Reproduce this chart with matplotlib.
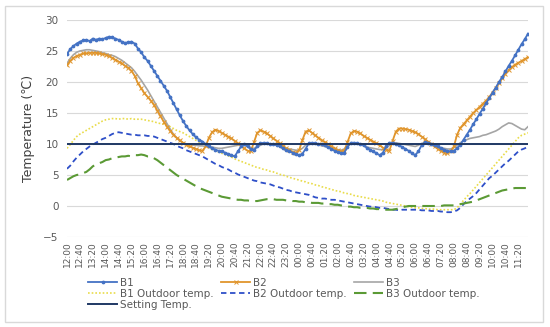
import matplotlib
matplotlib.use("Agg")
import matplotlib.pyplot as plt
from matplotlib.patches import Rectangle

# ---- data (10-minute samples, 12:00 -> 11:50 next day) ----
tick_labels = ["12:00", "12:40", "13:20", "14:00", "14:40", "15:20", "16:00", "16:40",
               "17:20", "18:00", "18:40", "19:20", "20:00", "20:40", "21:20", "22:00",
               "22:40", "23:20", "00:00", "00:40", "01:20", "02:00", "02:40", "03:20",
               "04:00", "04:40", "05:20", "06:00", "06:40", "07:20", "08:00", "08:40",
               "09:20", "10:00", "10:40", "11:20"]

b1 = [24.5, 25.3, 25.8, 26.2, 26.5, 26.7,
      26.8, 26.6, 27.0, 26.8, 27.0, 26.9,
      27.1, 27.3, 27.2, 27.0, 26.8, 26.5,
      26.3, 26.4, 26.5, 26.2, 25.4, 24.8,
      24.0, 23.4, 22.6, 21.8, 21.0, 20.2,
      19.4, 18.6, 17.6, 16.6, 15.6, 14.6,
      13.7, 12.9, 12.2, 11.6, 11.1, 10.7,
      10.4, 10.0, 9.6, 9.3, 9.1, 8.9,
      8.8, 8.6, 8.4, 8.2, 8.0, 8.8,
      9.6, 10.0, 9.6, 9.2, 9.0, 9.6,
      10.1, 10.2, 10.1, 10.0, 10.0, 9.8,
      9.6, 9.3, 9.0, 8.8, 8.6, 8.4,
      8.2, 8.4, 9.2, 10.1, 10.2, 10.1,
      10.0, 10.0, 9.8, 9.5, 9.2, 8.9,
      8.7, 8.5, 8.6, 9.5, 10.2, 10.2,
      10.1, 10.0, 9.8, 9.4, 9.1, 8.8,
      8.5, 8.2, 8.6, 9.6, 10.2, 10.2,
      10.0, 9.8, 9.5, 9.2, 8.9, 8.5,
      8.2, 8.8, 9.8, 10.3, 10.2, 10.0,
      9.8, 9.6, 9.3, 9.1, 8.9, 8.8,
      8.9, 9.3, 9.9, 10.7, 11.5, 12.3,
      13.2, 14.0, 14.9, 15.7, 16.6, 17.4,
      18.3, 19.1, 20.0, 20.8, 21.7, 22.6,
      23.4, 24.3, 25.2, 26.1, 26.9, 27.8]

b2 = [22.7, 23.4, 23.9, 24.2, 24.4, 24.6,
      24.6, 24.7, 24.7, 24.7, 24.6, 24.5,
      24.4, 24.2, 23.9, 23.6, 23.3, 23.0,
      22.6, 22.3, 21.8, 21.0, 19.8, 19.0,
      18.2, 17.6, 17.0, 16.3, 15.4, 14.5,
      13.6, 12.8, 12.1, 11.5, 11.0, 10.6,
      10.2, 9.9, 9.6, 9.4, 9.2, 9.0,
      8.9, 9.6, 11.0, 11.9, 12.3, 12.1,
      11.8, 11.5, 11.2, 10.9, 10.5, 10.1,
      9.7, 9.3, 8.9, 8.8, 10.3, 11.8,
      12.2, 12.0, 11.7, 11.3, 10.9, 10.5,
      10.1, 9.7, 9.3, 9.0, 8.7, 8.6,
      9.0, 10.6, 12.0, 12.2, 11.8, 11.4,
      11.0, 10.6, 10.3, 10.0, 9.6, 9.3,
      9.0, 8.8, 8.9, 10.3, 11.7, 12.1,
      12.0, 11.7, 11.3, 11.0, 10.7, 10.4,
      10.1, 9.8, 9.4, 9.1, 8.9, 10.5,
      12.0, 12.5, 12.5, 12.4, 12.3, 12.1,
      11.9, 11.6, 11.2, 10.8, 10.4, 10.0,
      9.6, 9.2, 8.9, 8.6, 8.5, 8.8,
      9.6, 11.5, 12.6, 13.2, 13.8, 14.4,
      15.0, 15.5, 16.0, 16.5, 17.0, 17.6,
      18.3, 19.0, 19.8, 20.6, 21.3, 21.9,
      22.4, 22.8, 23.1, 23.4, 23.7, 24.0]

b3 = [23.0, 23.8, 24.4, 24.8, 25.0, 25.1,
      25.2, 25.2, 25.1, 25.0, 24.9, 24.7,
      24.6, 24.4, 24.3, 24.1, 23.8, 23.5,
      23.1, 22.7, 22.3, 21.7, 21.0, 20.3,
      19.5, 18.7, 17.8, 16.9, 16.0, 15.1,
      14.2, 13.3, 12.4, 11.6, 11.0, 10.5,
      10.2, 10.0, 9.9, 9.8, 9.8, 9.7,
      9.7, 9.6, 9.6, 9.5, 9.4, 9.3,
      9.3, 9.4, 9.5, 9.6, 9.7, 9.8,
      9.9, 9.8, 9.6, 9.4, 9.3, 9.5,
      9.8, 10.0, 10.1, 10.0, 9.9, 9.8,
      9.6, 9.5, 9.3, 9.2, 9.1, 9.0,
      9.0, 9.3, 9.8, 10.1, 10.1, 10.0,
      9.9, 9.7, 9.6, 9.4, 9.3, 9.2,
      9.1, 9.0, 9.2, 9.7, 10.0, 10.1,
      10.0, 9.9, 9.7, 9.5, 9.4, 9.3,
      9.2, 9.1, 9.1, 9.3, 9.8, 10.1,
      10.2, 10.1, 10.0, 9.9, 9.8, 9.7,
      9.6, 9.8, 10.1, 10.2, 10.1, 9.9,
      9.7, 9.5, 9.4, 9.3, 9.2, 9.2,
      9.4, 9.8, 10.2, 10.5, 10.7, 10.9,
      11.0, 11.1, 11.2, 11.4, 11.5, 11.7,
      11.9, 12.1, 12.4, 12.8, 13.1, 13.4,
      13.3, 13.0, 12.7, 12.4, 12.3, 12.8]

b1_out = [9.3, 9.9, 10.6, 11.2, 11.6, 11.9,
          12.2, 12.5, 12.8, 13.1, 13.4, 13.7,
          13.9, 14.0, 14.1, 14.1, 14.0, 14.1,
          14.1, 14.0, 14.1, 14.0, 14.0, 14.0,
          13.9, 13.8, 13.7, 13.6, 13.4, 13.3,
          13.2, 13.0, 12.8, 12.5, 12.2, 12.0,
          11.8, 11.5, 11.2, 10.9, 10.6, 10.3,
          10.0, 9.7, 9.4, 9.1, 8.9, 8.7,
          8.5, 8.3, 8.1, 7.9, 7.6, 7.4,
          7.2, 7.0, 6.8, 6.6, 6.4, 6.2,
          6.1, 5.9, 5.8, 5.6, 5.5, 5.3,
          5.1, 5.0, 4.8, 4.6, 4.5, 4.3,
          4.2, 4.0, 3.9, 3.7, 3.6, 3.4,
          3.3, 3.1, 3.0, 2.8, 2.7, 2.5,
          2.4, 2.3, 2.1, 2.0, 1.9, 1.7,
          1.6, 1.5, 1.4, 1.3, 1.2, 1.1,
          1.0, 0.9, 0.8, 0.6, 0.5, 0.4,
          0.3, 0.2, 0.1, 0.0, -0.1, -0.2,
          -0.3, -0.3, -0.4, -0.4, -0.5, -0.5,
          -0.5, -0.6, -0.6, -0.6, -0.6, -0.6,
          -0.6, -0.3, 0.3, 0.9, 1.5, 2.0,
          2.6, 3.2, 3.8, 4.4, 5.0, 5.6,
          6.2, 6.8, 7.4, 8.0, 8.6, 9.2,
          9.8, 10.4, 11.0, 11.4, 11.6, 11.8]

b2_out = [6.0, 6.5, 7.2, 7.8, 8.3, 8.8,
          9.2, 9.6, 9.9, 10.2, 10.5, 10.8,
          11.0, 11.3, 11.6, 11.8, 11.9, 11.8,
          11.7, 11.6, 11.5, 11.5, 11.4, 11.4,
          11.4, 11.3, 11.3, 11.2, 11.0, 10.8,
          10.6, 10.4, 10.2, 10.0, 9.7, 9.5,
          9.3, 9.0, 8.8, 8.6, 8.4, 8.2,
          8.0, 7.7, 7.4, 7.1, 6.8, 6.6,
          6.3, 6.1, 5.9, 5.6, 5.4, 5.1,
          4.9, 4.7, 4.5, 4.3, 4.1, 4.0,
          3.8, 3.7, 3.6, 3.5, 3.3, 3.1,
          3.0, 2.8, 2.6, 2.5, 2.3, 2.2,
          2.1, 2.0, 1.9, 1.8, 1.6, 1.4,
          1.3, 1.2, 1.2, 1.1, 1.0, 1.0,
          0.9, 0.8, 0.7, 0.6, 0.5, 0.4,
          0.3, 0.2, 0.1, 0.0, -0.1, -0.1,
          -0.2, -0.3, -0.3, -0.4, -0.5, -0.6,
          -0.6, -0.7, -0.6, -0.6, -0.6, -0.6,
          -0.6, -0.6, -0.7, -0.7, -0.7, -0.8,
          -0.8, -0.8, -0.9, -0.9, -1.0, -1.0,
          -0.9, -0.7, -0.3, 0.3, 0.8, 1.2,
          1.6, 2.1, 2.7, 3.3, 3.9, 4.5,
          4.9, 5.4, 5.9, 6.4, 6.9, 7.3,
          7.8, 8.3, 8.8, 9.1, 9.3, 9.6]

b3_out = [4.2, 4.5, 4.8, 5.0, 5.1, 5.3,
          5.5, 5.9, 6.4, 6.7, 6.9, 7.1,
          7.4, 7.5, 7.7, 7.8, 7.9, 8.0,
          8.0, 8.1, 8.0, 8.2, 8.2, 8.3,
          8.2, 8.0, 8.0, 7.7, 7.4, 7.0,
          6.6, 6.2, 5.8, 5.4, 5.0, 4.7,
          4.4, 4.1, 3.8, 3.5, 3.2, 2.9,
          2.7, 2.5, 2.3, 2.1, 1.9, 1.7,
          1.5, 1.4, 1.3, 1.2, 1.1, 1.0,
          1.0, 0.9, 0.9, 0.8, 0.8, 0.8,
          0.9, 1.0, 1.1, 1.1, 1.1, 1.0,
          1.0, 1.0, 0.9, 0.9, 0.8, 0.8,
          0.7, 0.7, 0.6, 0.6, 0.5, 0.5,
          0.5, 0.4, 0.4, 0.3, 0.3, 0.2,
          0.2, 0.1, 0.0, -0.1, -0.1, -0.2,
          -0.2, -0.3, -0.3, -0.3, -0.4, -0.4,
          -0.5, -0.5, -0.5, -0.6, -0.6, -0.6,
          -0.5, -0.4, -0.2, -0.1, 0.0, 0.0,
          0.0, 0.0, 0.0, 0.0, 0.0, 0.0,
          0.0, 0.0, 0.0, 0.1, 0.1, 0.1,
          0.1, 0.2, 0.3, 0.4, 0.5, 0.6,
          0.7, 0.9, 1.1, 1.3, 1.5, 1.7,
          1.9, 2.1, 2.3, 2.5, 2.6, 2.7,
          2.8, 2.9, 2.9, 2.9, 2.9, 2.9]

setting_temp = 10.0

# ---- figure ----
W, H = 550, 327
fig = plt.figure(figsize=(W / 100, H / 100), dpi=100)
fig.patches.append(Rectangle((5 / W, 5 / H), 538 / W, 316 / H, transform=fig.transFigure,
                             fill=False, edgecolor="#D9D9D9", linewidth=1.0))

ax = fig.add_axes([67 / W, 1 - 237 / H, (528 - 67) / W, (237 - 20) / H])
n = len(b1)
x = list(range(n))

c_b1 = "#4472C4"
c_b2 = "#E0952C"
c_b3 = "#A5A5A5"
c_o1 = "#E9DC4A"
c_o2 = "#2E4FC8"
c_o3 = "#5B9A35"
c_set = "#1F3864"

ax.plot(x, b1_out, color=c_o1, lw=1.2, ls=(0, (1, 1.2)), label="B1 Outdoor temp.", zorder=2)
ax.plot(x, b2_out, color=c_o2, lw=1.3, ls=(0, (3, 2)), label="B2 Outdoor temp.", zorder=2)
ax.plot(x, b3_out, color=c_o3, lw=1.5, ls=(0, (6, 3)), label="B3 Outdoor temp.", zorder=2)
ax.plot(x, b3, color=c_b3, lw=1.2, label="B3", zorder=3)
ax.plot(x, b2, color=c_b2, lw=1.3, marker="x", ms=2.5, mew=0.7, label="B2", zorder=4)
ax.plot(x, b1, color=c_b1, lw=1.3, marker="o", ms=1.7, label="B1", zorder=5)
ax.plot([0, n - 1], [setting_temp, setting_temp], color=c_set, lw=1.4,
        label="Setting Temp.", zorder=6)

ax.set_xlim(0, n - 1)
ax.set_ylim(-5, 30)
ax.set_yticks(range(-5, 31, 5))
ax.set_xticks(range(0, n, 4))
ax.set_xticklabels(tick_labels, rotation=90, fontsize=6.5, color="#595959")
ax.tick_params(axis="y", labelsize=7.5, labelcolor="#595959", length=0, pad=6)
ax.tick_params(axis="x", length=0, pad=3)
ax.grid(axis="y", color="#D9D9D9", lw=0.8)
ax.set_axisbelow(True)
for s in ax.spines.values():
    s.set_visible(False)

ax.set_ylabel("Temperature (℃)", fontsize=9, color="#404040", labelpad=6)

# ---- legend (three columns placed like the reference) ----
handles = {h.get_label(): h for h in ax.get_lines()}
cols = [(["B1", "B1 Outdoor temp.", "Setting Temp."], 88),
        (["B2", "B2 Outdoor temp."], 221),
        (["B3", "B3 Outdoor temp."], 354)]
for labels, xpx in cols:
    fig.legend([handles[l] for l in labels], labels, loc="upper left",
               bbox_to_anchor=(xpx / W, 1 - 278 / H), frameon=False,
               fontsize=7.5, handlelength=2.8, handletextpad=0.3,
               labelspacing=0.1, borderaxespad=0, borderpad=0,
               labelcolor="#595959")

fig.savefig("out.png", dpi=100)
